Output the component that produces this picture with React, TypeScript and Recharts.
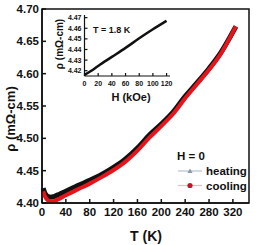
import { LineChart, Line, XAxis, YAxis, ReferenceArea } from "recharts"

// main panel: rho(T) at H = 0
const temps = [2, 5, 10, 15, 20, 30, 40, 60, 80, 100, 120, 140, 160, 180, 200, 220, 240, 260, 280, 300, 325]
const heating = [4.423, 4.415, 4.41, 4.409, 4.41, 4.414, 4.418, 4.427, 4.435, 4.444, 4.455, 4.468, 4.485, 4.505, 4.522, 4.541, 4.565, 4.586, 4.608, 4.633, 4.673]
const cooling = [4.418, 4.41, 4.404, 4.402, 4.403, 4.407, 4.412, 4.421, 4.43, 4.44, 4.451, 4.464, 4.481, 4.501, 4.519, 4.538, 4.562, 4.584, 4.606, 4.631, 4.673]
const tTicks = [0, 40, 80, 120, 160, 200, 240, 280, 320]
const rhoTicks = [4.4, 4.45, 4.5, 4.55, 4.6, 4.65, 4.7]

// inset: rho(H) at T = 1.8 K
const fields = [0, 10, 20, 40, 60, 80, 100, 120]
const rhoField = [4.416, 4.42, 4.4245, 4.433, 4.4415, 4.4505, 4.459, 4.467]
const hTicks = [0, 20, 40, 60, 80, 100, 120]
const insetTicks = [4.42, 4.43, 4.44, 4.45, 4.46, 4.47]

const mainData = temps.map((t, i) => ({ T: t, heating: heating[i], cooling: cooling[i] }))
const insetData = fields.map((h, i) => ({ H: h, rho: rhoField[i] }))

const font = '"Liberation Sans", Arial, sans-serif'

export default function App() {
  const tick = { fill: "#111", fontSize: 11.5, fontWeight: 700, fontFamily: font }
  const smallTick = { fill: "#111", fontSize: 7, fontWeight: 700, fontFamily: font }
  return (
    <div style={{ position: "absolute", left: 0, top: 0, width: 258, height: 245, background: "#fff" }}>
      <LineChart width={258} height={245} data={mainData} margin={{ top: 9, right: 9, bottom: 12, left: 12 }}>
        <XAxis
          dataKey="T"
          type="number"
          domain={[0, 347]}
          ticks={tTicks}
          height={30}
          tickSize={-4}
          tickMargin={9}
          stroke="#111"
          strokeWidth={1.5}
          tick={tick}
          interval={0}
        />
        <YAxis
          type="number"
          domain={[4.4, 4.7]}
          ticks={rhoTicks}
          width={30}
          tickSize={-4}
          tickMargin={7}
          stroke="#111"
          strokeWidth={1.5}
          tick={tick}
          interval={0}
          tickFormatter={(v: number) => v.toFixed(2)}
        />
        <ReferenceArea x1={0} x2={347} y1={4.4} y2={4.7} fill="none" stroke="#111" strokeWidth={1.5} />
        <Line dataKey="heating" type="monotone" stroke="#111" strokeWidth={5} dot={false} isAnimationActive={false} />
        <Line dataKey="cooling" type="monotone" stroke="#e8141c" strokeWidth={4} dot={false} isAnimationActive={false} />
      </LineChart>

      <div style={{ position: "absolute", left: 50, top: 5 }}>
        <LineChart width={125} height={100} data={insetData} margin={{ top: 10, right: 5, bottom: 5, left: 10 }}>
          <XAxis
            dataKey="H"
            type="number"
            domain={[0, 125]}
            ticks={hTicks}
            height={24}
            tickSize={-3}
            tickMargin={8}
            stroke="#111"
            strokeWidth={1.2}
            tick={smallTick}
            interval={0}
          />
          <YAxis
            type="number"
            domain={[4.415, 4.4725]}
            ticks={insetTicks}
            width={24.5}
            tickSize={-3}
            tickMargin={6}
            stroke="#111"
            strokeWidth={1.2}
            tick={smallTick}
            interval={0}
            tickFormatter={(v: number) => v.toFixed(2)}
          />
          <Line dataKey="rho" type="monotone" stroke="#111" strokeWidth={2.5} dot={false} isAnimationActive={false} />
        </LineChart>
      </div>

      <svg width={258} height={245} style={{ position: "absolute", left: 0, top: 0, pointerEvents: "none" }}>
        <g fontFamily={font} fontWeight={700} fill="#111">
          <text x={146} y={241} fontSize={14} textAnchor="middle">T (K)</text>
          <text transform="translate(15,119) rotate(-90)" fontSize={13} textAnchor="middle">ρ (mΩ-cm)</text>
          <text x={93} y={33} fontSize={9}>T = 1.8 K</text>
          <text transform="translate(63,44) rotate(-90)" fontSize={10} textAnchor="middle">ρ (mΩ-cm)</text>
          <text x={131} y={101} fontSize={11} textAnchor="middle">H (kOe)</text>
          <text x={177} y={160} fontSize={11.5}>H = 0</text>
          <line x1={178} x2={202} y1={171} y2={171} stroke="#b8c4cc" strokeWidth={1.2} />
          <path d="M190,168.5 L192.6,173 L187.4,173 Z" fill="#8c9aa6" />
          <text x={206} y={175} fontSize={11.5}>heating</text>
          <line x1={178} x2={202} y1={185.5} y2={185.5} stroke="#f4b8c0" strokeWidth={1.2} />
          <circle cx={190} cy={185.5} r={2.6} fill="#c8102e" />
          <text x={206} y={189.5} fontSize={11.5}>cooling</text>
        </g>
      </svg>
    </div>
  )
}
